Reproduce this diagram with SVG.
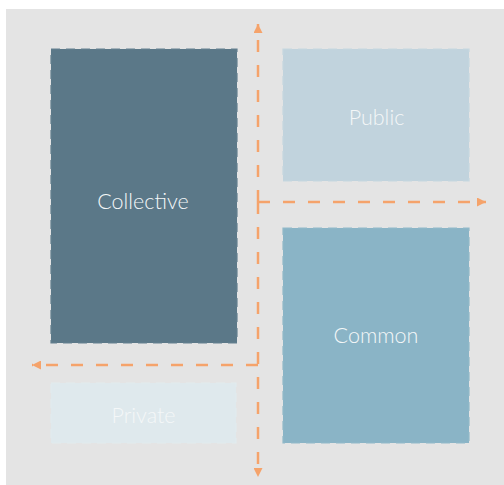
<svg xmlns="http://www.w3.org/2000/svg" width="504" height="485" viewBox="0 0 504 485">
<style>
.lbl{font-family:Lato,"Open Sans","Liberation Sans",sans-serif;font-weight:300;font-size:21.5px;text-anchor:middle;fill:#f4f7f8}
.box{stroke-width:1.2;stroke-dasharray:9,6}
.flow{fill:none;stroke:#f5a36b;stroke-width:2.5;stroke-dasharray:12,13}
</style>
<defs>
<marker id="ah" viewBox="0 0 10 10" refX="10" refY="5" markerWidth="9" markerHeight="9" markerUnits="userSpaceOnUse" orient="auto">
<path d="M0,0 L10,5 L0,10 Z" fill="#f5a36b"/>
</marker>
</defs>
<rect x="6" y="9" width="498" height="476" fill="#e4e4e4"/>
<g id="collective">
<rect class="box" x="51" y="49" width="186" height="294" fill="#5b7888" stroke="#64808f"/>
<text class="lbl" x="143" y="209">Collective</text>
</g>
<g id="public">
<rect class="box" x="283" y="49" width="186" height="132" fill="#c1d3dd" stroke="#c6d7e0"/>
<text class="lbl" x="376.5" y="125">Public</text>
</g>
<g id="common">
<rect class="box" x="283" y="228" width="186" height="215" fill="#8ab4c6" stroke="#92b9c9"/>
<text class="lbl" x="376" y="343">Common</text>
</g>
<g id="private">
<rect class="box" x="51" y="383" width="185" height="60" fill="#dfe9ed" stroke="#e2ebee"/>
<text class="lbl" x="143.5" y="423">Private</text>
</g>
<g id="connectors">
<line class="flow" x1="258" y1="202" x2="258" y2="24" marker-end="url(#ah)"/>
<line class="flow" x1="258" y1="202" x2="258" y2="477" marker-end="url(#ah)"/>
<line class="flow" x1="258" y1="202" x2="486" y2="202" marker-end="url(#ah)"/>
<line class="flow" x1="258" y1="365" x2="32" y2="365" marker-end="url(#ah)"/>
</g>
</svg>
